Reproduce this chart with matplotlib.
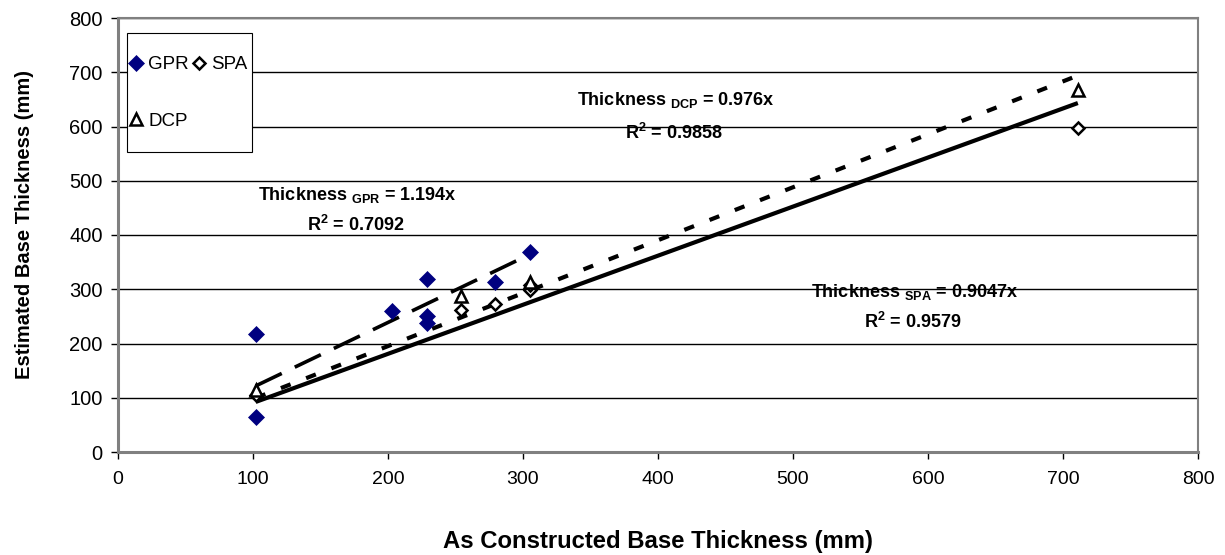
import matplotlib
matplotlib.use("Agg")
import matplotlib.pyplot as plt
from matplotlib.patches import Rectangle
import numpy as np

plt.rcParams['font.family'] = ['Liberation Sans', 'DejaVu Sans']
plt.rcParams['mathtext.fontset'] = 'custom'
plt.rcParams['mathtext.rm'] = 'Liberation Sans'
plt.rcParams['mathtext.bf'] = 'Liberation Sans:bold'

# measured data (mm)
gpr_x = [102, 102, 203, 229, 229, 229, 279, 305]
gpr_y = [218, 64, 260, 318, 250, 238, 313, 369]
spa_x = [102, 254, 279, 305, 305, 711]
spa_y = [105, 262, 272, 298, 308, 597]
dcp_x = [102, 254, 305, 711]
dcp_y = [115, 288, 313, 667]

# fitted slopes (through origin)
gpr_slope = 1.194
spa_slope = 0.9047
dcp_slope = 0.976

fig = plt.figure(figsize=(12.25, 5.55), dpi=100)
ax = fig.add_axes([118 / 1225, 1 - 452 / 555, 1080 / 1225, 434 / 555])

grey = '#808080'

# trend lines
xs = np.array([min(gpr_x), max(gpr_x)])
ax.plot(xs, gpr_slope * xs, color='black', lw=2.6, dashes=(8, 4), zorder=3)
xs = np.array([min(dcp_x), max(dcp_x)])
ax.plot(xs, dcp_slope * xs, color='black', lw=3.0, dashes=(2.5, 4), zorder=3)
xs = np.array([min(spa_x), max(spa_x)])
ax.plot(xs, spa_slope * xs, color='black', lw=3.0, solid_capstyle='butt', zorder=3)

# points
h_gpr, = ax.plot(gpr_x, gpr_y, 'D', color='#000080', ms=8.5, mec='#000080',
                 mew=0.5, ls='none', label='GPR', zorder=4)
h_spa, = ax.plot(spa_x, spa_y, 'D', mfc='white', mec='black', ms=6.5,
                 mew=1.8, ls='none', label='SPA', zorder=4)
h_dcp, = ax.plot(dcp_x, dcp_y, '^', mfc='white', mec='black', ms=9,
                 mew=1.8, ls='none', label='DCP', zorder=4)

ax.set_xlim(0, 800)
ax.set_ylim(0, 800)
ax.set_xticks(range(0, 801, 100))
ax.set_yticks(range(0, 801, 100))
ax.yaxis.grid(True, color='black', lw=1.0)
ax.set_axisbelow(True)
for s in ax.spines.values():
    s.set_color(grey)
    s.set_linewidth(1.5)
ax.spines['left'].set_linewidth(2.2)
ax.spines['bottom'].set_linewidth(2.2)
ax.tick_params(axis='both', direction='out', length=5, width=1, color='black')
ax.tick_params(axis='y', labelsize=14.5, pad=6)
ax.tick_params(axis='x', labelsize=14, pad=9)

ax.set_ylabel('Estimated Base Thickness (mm)', fontsize=14.5, fontweight='bold')
ax.set_xlabel('As Constructed Base Thickness (mm)', fontsize=17.2, fontweight='bold')
ax.yaxis.set_label_coords(-0.078, 0.525)
ax.xaxis.set_label_coords(0.5, -0.18)

# legend box drawn by hand, entries placed inside it
ax.add_patch(Rectangle((0.0083, 0.691), 0.1157, 0.2744, transform=ax.transAxes,
                       facecolor='white', edgecolor='black', lw=0.8, zorder=6))
leg = ax.legend([h_gpr, h_dcp, h_spa], ['GPR', 'DCP', 'SPA'], ncol=2,
                loc='upper left', bbox_to_anchor=(0.0105, 0.912),
                fontsize=13.5, frameon=False, borderpad=0, labelspacing=2.1,
                handlelength=0.7, handletextpad=0.3, columnspacing=0.2,
                borderaxespad=0)
leg.set_zorder(7)

tkw = dict(fontsize=13, fontweight='bold', ha='center', va='center', zorder=5)
ax.text(413, 649, r'Thickness $_{\mathbf{DCP}}$ = 0.976x', **tkw)
ax.text(412, 588, r'R$^{\mathbf{2}}$ = 0.9858', **tkw)
ax.text(177, 474, r'Thickness $_{\mathbf{GPR}}$ = 1.194x', **tkw)
ax.text(176, 418, r'R$^{\mathbf{2}}$ = 0.7092', **tkw)
ax.text(590, 295, r'Thickness $_{\mathbf{SPA}}$ = 0.9047x', **tkw)
ax.text(589, 240, r'R$^{\mathbf{2}}$ = 0.9579', **tkw)

fig.savefig('out.png', dpi=100)
